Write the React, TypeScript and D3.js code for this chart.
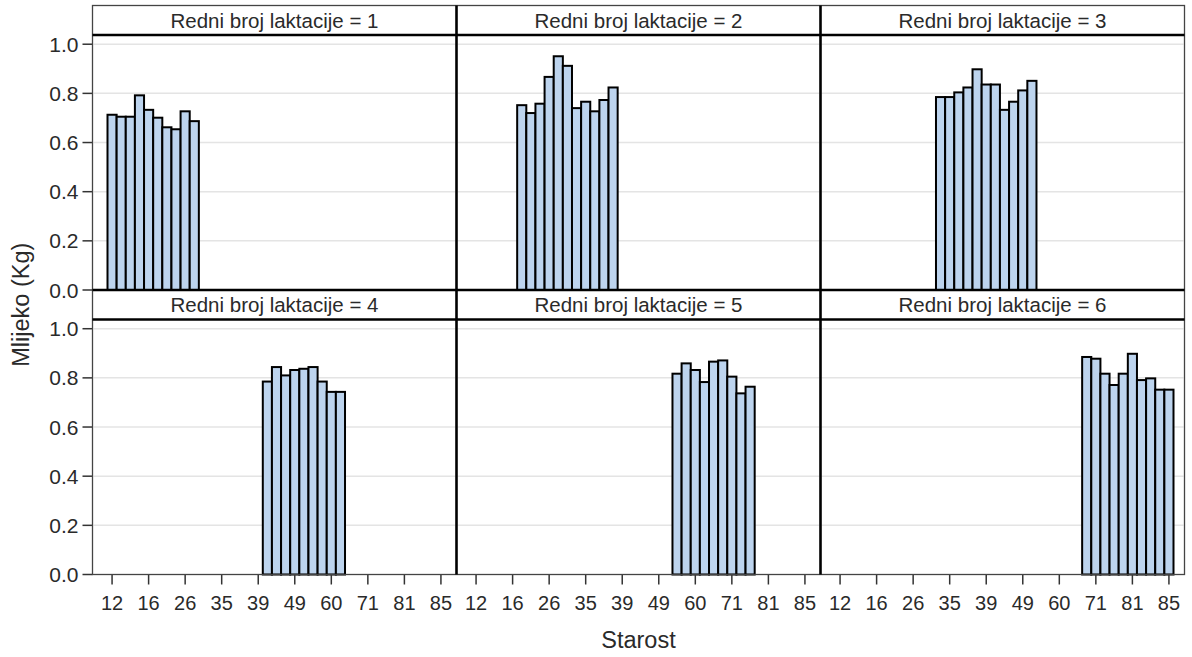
import React from "react";
import * as d3 from "d3";

// Age categories on the discrete x axis (every fourth one carries a label)
const ageCategories: number[] = [
  12, 13, 14, 15, 16, 18, 20, 23, 26, 28, 30, 33, 35, 36, 37, 38, 39, 41, 44,
  47, 49, 52, 55, 58, 60, 63, 66, 69, 71, 74, 77, 79, 81, 82, 83, 84, 85,
];
const tickAges: number[] = [12, 16, 26, 35, 39, 49, 60, 71, 81, 85];
const yTicks: number[] = [0, 0.2, 0.4, 0.6, 0.8, 1.0];

// Mean milk yield (Kg) by age, one pair of arrays per lactation number
const lact1Ages = [12, 13, 14, 15, 16, 18, 20, 23, 26, 28];
const lact1Milk = [0.713, 0.705, 0.705, 0.792, 0.733, 0.701, 0.662, 0.654, 0.727, 0.687];

const lact2Ages = [18, 20, 23, 26, 28, 30, 33, 35, 36, 37, 38];
const lact2Milk = [0.752, 0.72, 0.758, 0.867, 0.951, 0.912, 0.74, 0.766, 0.727, 0.773, 0.824];

const lact3Ages = [33, 35, 36, 37, 38, 39, 41, 44, 47, 49, 52];
const lact3Milk = [0.785, 0.785, 0.804, 0.824, 0.898, 0.836, 0.836, 0.733, 0.766, 0.812, 0.851];

const lact4Ages = [41, 44, 47, 49, 52, 55, 58, 60, 63];
const lact4Milk = [0.785, 0.844, 0.81, 0.832, 0.837, 0.844, 0.785, 0.743, 0.743];

const lact5Ages = [55, 58, 60, 63, 66, 69, 71, 74, 77];
const lact5Milk = [0.817, 0.859, 0.832, 0.783, 0.866, 0.871, 0.805, 0.737, 0.764];

const lact6Ages = [69, 71, 74, 77, 79, 81, 82, 83, 84, 85];
const lact6Milk = [0.885, 0.878, 0.817, 0.771, 0.817, 0.898, 0.791, 0.798, 0.752, 0.752];

const panels = [
  { lact: 1, ages: lact1Ages, milk: lact1Milk },
  { lact: 2, ages: lact2Ages, milk: lact2Milk },
  { lact: 3, ages: lact3Ages, milk: lact3Milk },
  { lact: 4, ages: lact4Ages, milk: lact4Milk },
  { lact: 5, ages: lact5Ages, milk: lact5Milk },
  { lact: 6, ages: lact6Ages, milk: lact6Milk },
];

const FONT = "'Liberation Sans', Arial, sans-serif";
const TEXT = "#2a2a2a";
const BAR_FILL = "#bdd4ee";

export default function App() {
  const W = 1192;
  const H = 657;
  const colX = [92.5, 456.5, 820.5, 1184.5];
  const headerH = 29.5;
  const plotH = 255;
  const rowHeaderTop = [5.5, 290];
  const tickLen = 10;
  const headerFs = 20.5;
  const yTickFs = 21;
  const xTickFs = 20;
  const labelFs = 23.5;

  const rows = rowHeaderTop.map((ht) => {
    const top = ht + headerH;
    const bottom = top + plotH;
    const y = d3.scaleLinear().domain([0, 1.0375]).range([bottom, top]);
    return { ht, top, bottom, y };
  });

  const colScales = [0, 1, 2].map((c) => {
    const x0 = colX[c];
    return d3
      .scaleBand<number>()
      .domain(ageCategories)
      .range([x0 + 15, x0 + 353])
      .padding(0);
  });

  const left = colX[0];
  const right = colX[3];
  const bottomAll = rows[1].bottom;

  return (
    <svg
      width={W}
      height={H}
      style={{ position: "absolute", left: 0, top: 0, background: "#fff" }}
      fontFamily={FONT}
    >
      <rect x={0} y={0} width={W} height={H} fill="#fff" />
      {panels.map((p, i) => {
        const r = rows[Math.floor(i / 3)];
        const c = i % 3;
        const x = colScales[c];
        const x0 = colX[c];
        const x1 = colX[c + 1];
        return (
          <g key={p.lact}>
            {/* grid */}
            {yTicks
              .filter((t) => t > 0)
              .map((t) => (
                <line
                  key={t}
                  x1={x0 + 1}
                  x2={x1 - 1}
                  y1={r.y(t)}
                  y2={r.y(t)}
                  stroke="#e4e4e4"
                  strokeWidth={1.5}
                />
              ))}
            {/* bars */}
            {p.ages.map((a, j) => (
              <rect
                key={a}
                x={x(a)!}
                y={r.y(p.milk[j])}
                width={x.bandwidth()}
                height={r.bottom - r.y(p.milk[j])}
                fill={BAR_FILL}
                stroke="#000"
                strokeWidth={2}
              />
            ))}
            {/* header */}
            <text
              x={(x0 + x1) / 2}
              y={r.ht + headerH / 2}
              textAnchor="middle"
              dominantBaseline="central"
              fontSize={headerFs}
              fill={TEXT}
            >
              {`Redni broj laktacije = ${p.lact}`}
            </text>
          </g>
        );
      })}

      {/* y axes (left column only) */}
      {rows.map((r, ri) => (
        <g key={ri}>
          {yTicks.map((t) => (
            <g key={t}>
              <line
                x1={left - tickLen}
                x2={left}
                y1={r.y(t)}
                y2={r.y(t)}
                stroke="#333"
                strokeWidth={1.5}
              />
              <text
                x={left - tickLen - 4}
                y={r.y(t)}
                textAnchor="end"
                dominantBaseline="central"
                fontSize={yTickFs}
                fill={TEXT}
              >
                {d3.format(".1f")(t)}
              </text>
            </g>
          ))}
        </g>
      ))}

      {/* x axes (bottom row) */}
      {colScales.map((x, c) => (
        <g key={c}>
          {tickAges.map((a) => {
            const cx = x(a)! + x.bandwidth() / 2;
            return (
              <g key={a}>
                <line
                  x1={cx}
                  x2={cx}
                  y1={bottomAll}
                  y2={bottomAll + tickLen}
                  stroke="#333"
                  strokeWidth={1.5}
                />
                <text
                  x={cx}
                  y={bottomAll + 28}
                  textAnchor="middle"
                  dominantBaseline="central"
                  fontSize={xTickFs}
                  fill={TEXT}
                >
                  {a}
                </text>
              </g>
            );
          })}
        </g>
      ))}

      {/* outer frame */}
      <rect
        x={left}
        y={rows[0].ht}
        width={right - left}
        height={bottomAll - rows[0].ht}
        fill="none"
        stroke="#444"
        strokeWidth={1.3}
      />
      {/* inner dividers */}
      {[colX[1], colX[2]].map((xx) => (
        <line
          key={xx}
          x1={xx}
          x2={xx}
          y1={rows[0].ht}
          y2={bottomAll}
          stroke="#000"
          strokeWidth={2.6}
        />
      ))}
      {[rows[0].top, rows[0].bottom, rows[1].top].map((yy) => (
        <line
          key={yy}
          x1={left}
          x2={right}
          y1={yy}
          y2={yy}
          stroke="#000"
          strokeWidth={2.6}
        />
      ))}

      {/* axis titles */}
      <text
        x={(left + right) / 2}
        y={640}
        textAnchor="middle"
        dominantBaseline="central"
        fontSize={labelFs}
        fill={TEXT}
      >
        Starost
      </text>
      <text
        transform={`translate(21, ${(rows[0].top + bottomAll) / 2}) rotate(-90)`}
        textAnchor="middle"
        dominantBaseline="central"
        fontSize={labelFs}
        fill={TEXT}
      >
        Mlijeko (Kg)
      </text>
    </svg>
  );
}
